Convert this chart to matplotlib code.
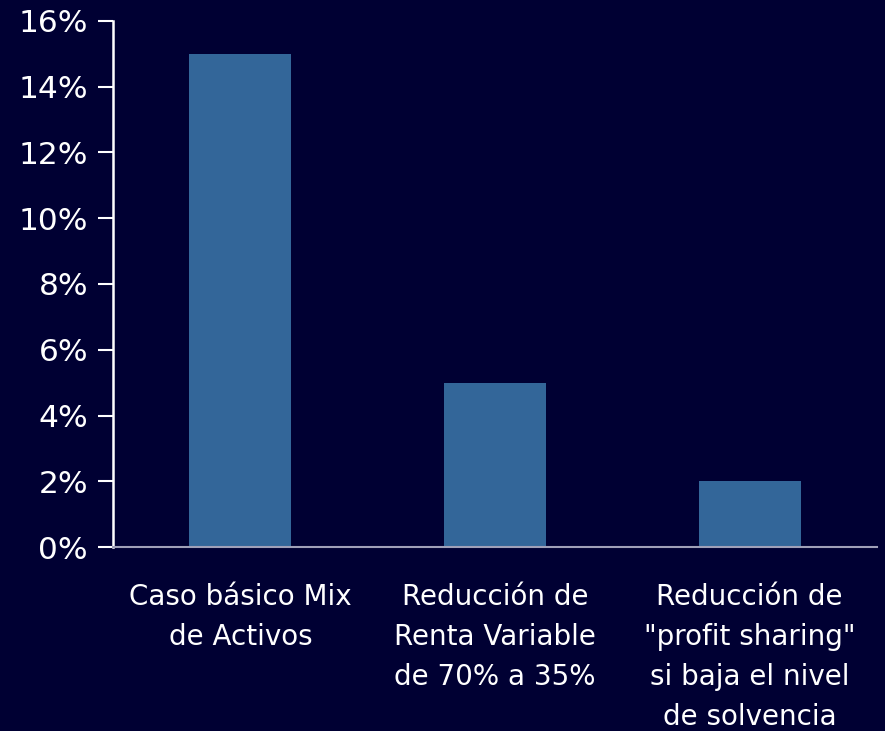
import matplotlib
matplotlib.use('Agg')
import matplotlib.pyplot as plt
from matplotlib.ticker import FuncFormatter

# data
categories = ['Caso básico Mix\nde Activos',
              'Reducción de\nRenta Variable\nde 70% a 35%',
              'Reducción de\n"profit sharing"\nsi baja el nivel\nde solvencia']
values = [15, 5, 2]
yticks = [0, 2, 4, 6, 8, 10, 12, 14, 16]

bg = '#000033'
bar_color = '#336699'

fig = plt.figure(figsize=(8.85, 7.31), dpi=100, facecolor=bg)
ax = fig.add_axes([0.1277, 0.2517, 0.8633, 0.7196], facecolor=bg)

ax.bar(range(len(values)), values, width=0.4, color=bar_color)

ax.set_xlim(-0.5, 2.5)
ax.set_ylim(0, 16)
ax.set_yticks(yticks)
ax.yaxis.set_major_formatter(FuncFormatter(lambda v, _: f'{v:.0f}%'))
ax.set_xticks(range(len(categories)))
ax.set_xticklabels(categories, color='white', fontsize=20, linespacing=1.55)

ax.tick_params(axis='y', colors='white', labelsize=22.5, length=11, width=1.5, pad=7)
ax.tick_params(axis='x', length=0, pad=26)

for s in ['top', 'right']:
    ax.spines[s].set_visible(False)
ax.spines['left'].set_color('white')
ax.spines['left'].set_linewidth(1.8)
ax.spines['bottom'].set_color('#a0a0b8')
ax.spines['bottom'].set_linewidth(1.5)

fig.savefig('out.png', dpi=100, facecolor=bg)
